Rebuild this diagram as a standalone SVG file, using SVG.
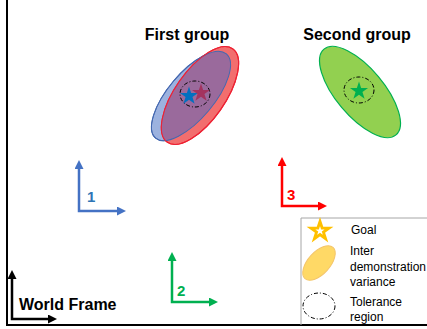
<svg xmlns="http://www.w3.org/2000/svg" width="427" height="329" viewBox="0 0 427 329">
<style>
.title{font-family:"Liberation Sans",Arial,sans-serif;font-weight:bold;font-size:16px;fill:#000}
.num{font-family:"Liberation Sans",Arial,sans-serif;font-weight:bold;font-size:15px}
.leg{font-family:"Liberation Sans",Arial,sans-serif;font-size:12px;fill:#000}
.ax{fill:none;stroke-width:2.5}
.tol{fill:none;stroke:#000;stroke-width:1;stroke-dasharray:4 2 1 2}
</style>
<defs>
<path id="star" d="M0,-10 L2.25,-3.09 L9.51,-3.09 L3.63,1.18 L5.88,8.09 L0,3.82 L-5.88,8.09 L-3.63,1.18 L-9.51,-3.09 L-2.25,-3.09 Z"/>
<marker id="aB" viewBox="0 0 10 10" refX="4" refY="5" markerWidth="9" markerHeight="9" markerUnits="userSpaceOnUse" orient="auto-start-reverse"><path d="M0,0 L10,5 L0,10 Z" fill="#4472C4"/></marker>
<marker id="aR" viewBox="0 0 10 10" refX="4" refY="5" markerWidth="9" markerHeight="9" markerUnits="userSpaceOnUse" orient="auto-start-reverse"><path d="M0,0 L10,5 L0,10 Z" fill="#FF0000"/></marker>
<marker id="aG" viewBox="0 0 10 10" refX="4" refY="5" markerWidth="9" markerHeight="9" markerUnits="userSpaceOnUse" orient="auto-start-reverse"><path d="M0,0 L10,5 L0,10 Z" fill="#00B050"/></marker>
<marker id="aK" viewBox="0 0 10 10" refX="4" refY="5" markerWidth="9" markerHeight="9" markerUnits="userSpaceOnUse" orient="auto-start-reverse"><path d="M0,0 L10,5 L0,10 Z" fill="#000"/></marker>
<clipPath id="blueClip"><ellipse cx="0" cy="0" rx="55" ry="23" transform="translate(191,96) rotate(-50)"/></clipPath>
</defs>
<rect width="427" height="329" fill="#fff"/>
<g id="frame" stroke="#000" stroke-width="2" fill="none">
<line x1="7" y1="0" x2="7" y2="325"/>
<line x1="6" y1="325" x2="427" y2="325"/>
</g>
<g id="first-group">
<text class="title" x="187" y="40" text-anchor="middle">First group</text>
<ellipse cx="0" cy="0" rx="55" ry="23" transform="translate(191,96) rotate(-50)" fill="#9CB2DF" stroke="#4468B0" stroke-width="1"/>
<ellipse cx="0" cy="0" rx="57" ry="25" transform="translate(200,95.5) rotate(-55)" fill="#F26E6E" stroke="#FF1A1A" stroke-width="1.2"/>
<g clip-path="url(#blueClip)"><ellipse cx="0" cy="0" rx="57" ry="25" transform="translate(200,95.5) rotate(-55)" fill="#9A6A9C"/></g>
<ellipse cx="0" cy="0" rx="55" ry="23" transform="translate(191,96) rotate(-50)" fill="none" stroke="#4468B0" stroke-width="1"/>
<ellipse cx="0" cy="0" rx="57" ry="25" transform="translate(200,95.5) rotate(-55)" fill="none" stroke="#E8233A" stroke-width="1"/>
<ellipse class="tol" cx="195" cy="94" rx="15" ry="13"/>
<use href="#star" transform="translate(189,96) scale(0.95)" fill="#0070C0"/>
<use href="#star" transform="translate(201,93) scale(0.95)" fill="#A3335F"/>
</g>
<g id="second-group">
<text class="title" x="357" y="40" text-anchor="middle">Second group</text>
<ellipse cx="0" cy="0" rx="56" ry="24" transform="translate(360,92) rotate(50)" fill="#92D050" stroke="#00B050" stroke-width="1.2"/>
<ellipse class="tol" cx="359" cy="90" rx="15" ry="13"/>
<use href="#star" transform="translate(359,91) scale(0.95)" fill="#00B050"/>
</g>
<g id="connectors">
<path class="ax" stroke="#4472C4" d="M79,165.4 V211 H120.6" marker-start="url(#aB)" marker-end="url(#aB)"/>
<path class="ax" stroke="#FF0000" d="M282,162.4 V206 H321.6" marker-start="url(#aR)" marker-end="url(#aR)"/>
<path class="ax" stroke="#00B050" d="M172,257.4 V302 H212.6" marker-start="url(#aG)" marker-end="url(#aG)"/>
<path class="ax" stroke="#000" d="M12,275.4 V319 H51.6" marker-start="url(#aK)" marker-end="url(#aK)"/>
</g>
<g id="frame1"><text class="num" x="87" y="202" fill="#2E75B6">1</text></g>
<g id="frame2"><text class="num" x="177" y="296" fill="#00B050">2</text></g>
<g id="frame3"><text class="num" x="287" y="200" fill="#FF0000">3</text></g>
<g id="world-frame"><text class="title" x="19" y="310">World Frame</text></g>
<g id="legend">
<path d="M431,218 H301 V325" fill="none" stroke="#A6A6A6" stroke-width="1"/>
<use href="#star" transform="translate(320,231) scale(0.95)" fill="#fff" stroke="#FFC000" stroke-width="3" stroke-linejoin="miter"/>
<text class="leg" x="351" y="234">Goal</text>
<ellipse cx="0" cy="0" rx="21" ry="11" transform="translate(319,263) rotate(-48)" fill="#FFD966" stroke="#F4C56A" stroke-width="1"/>
<text class="leg" x="350" y="255">Inter</text>
<text class="leg" x="350" y="271">demonstration</text>
<text class="leg" x="350" y="286">variance</text>
<ellipse class="tol" cx="319" cy="306" rx="16" ry="13"/>
<text class="leg" x="350" y="306">Tolerance</text>
<text class="leg" x="350" y="321">region</text>
</g>
</svg>
